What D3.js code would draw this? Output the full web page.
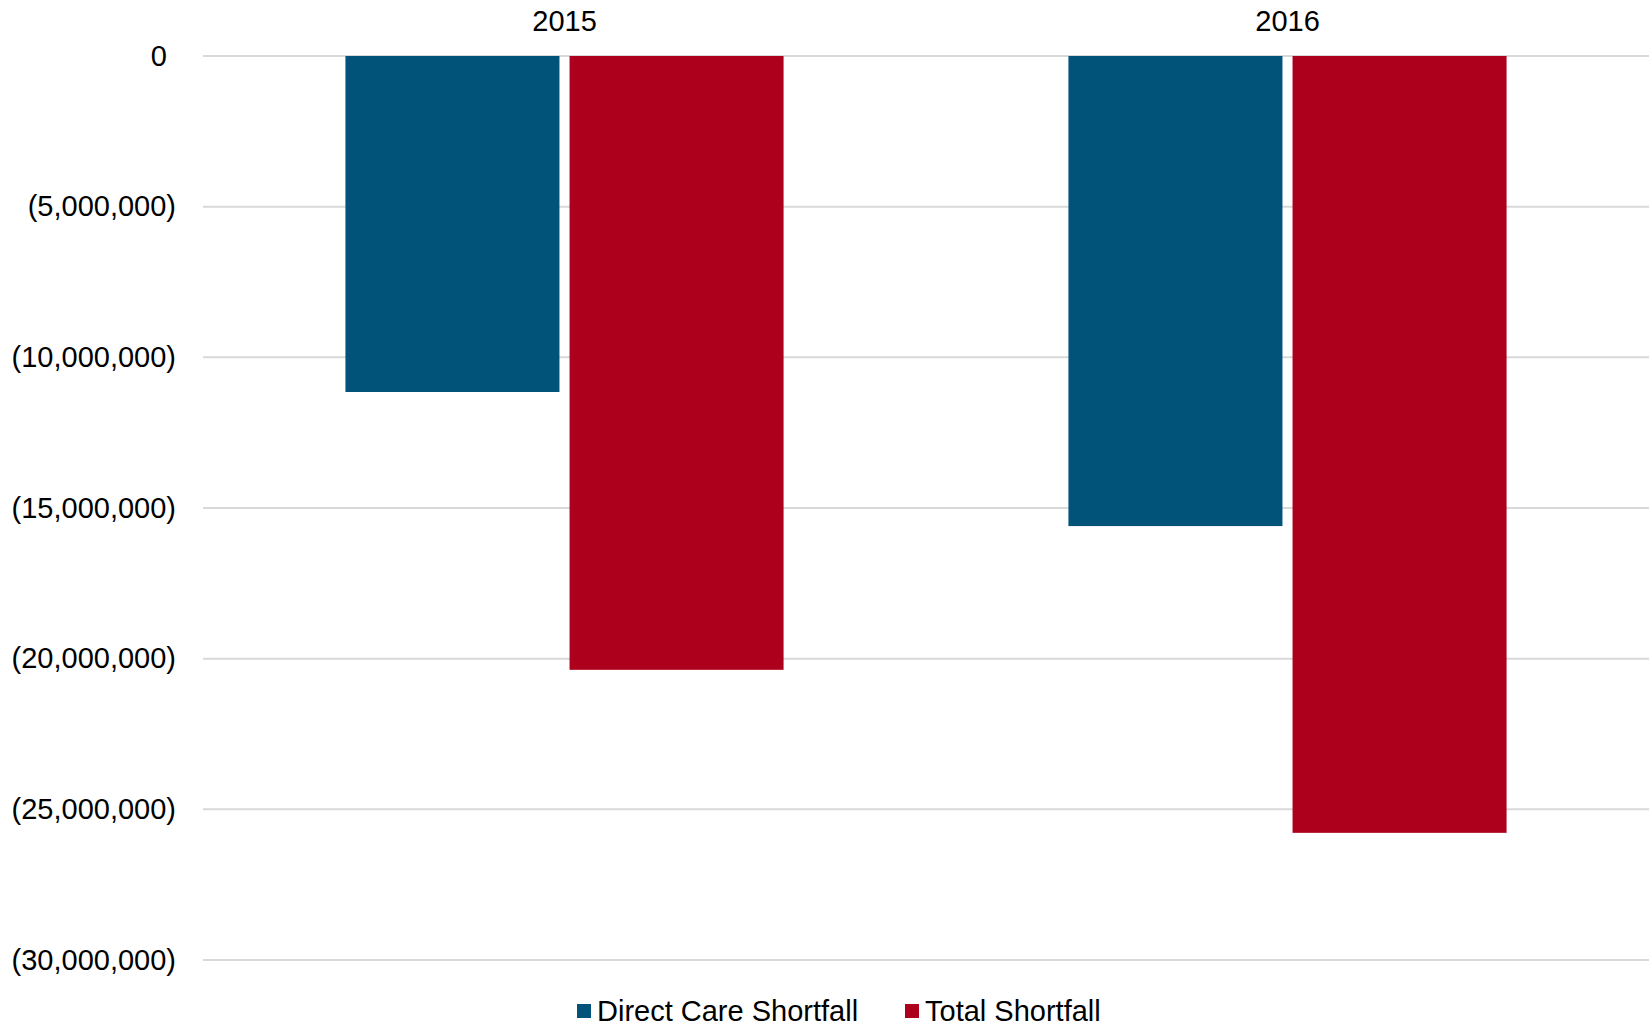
<!DOCTYPE html>
<html>
<head>
<meta charset="utf-8">
<script src="https://cdn.jsdelivr.net/npm/d3@7"></script>
<style>
  html, body { margin: 0; padding: 0; background: #fff; }
  text { font-family: "Liberation Sans", Arial, sans-serif; fill: #000; }
</style>
</head>
<body>
<div id="viz"></div>
<script>
const years = ["2015", "2016"];
const series = ["Direct Care Shortfall", "Total Shortfall"];
const directCare = [-11150000, -15600000];
const totalShortfall = [-20370000, -25780000];
const yTicks = [0, -5000000, -10000000, -15000000, -20000000, -25000000, -30000000];

const colors = ["#01537a", "#ad001c"];

const width = 1652;
const height = 1027;
const margin = { left: 203, right: 3, top: 56, bottom: 67 };
const fontSize = "29px";

const svg = d3.select("#viz").append("svg")
    .attr("width", width)
    .attr("height", height);

const data = years.map((y, i) => ({
    year: y,
    values: [directCare[i], totalShortfall[i]]
}));

const x0 = d3.scaleBand()
    .domain(years)
    .range([margin.left, width - margin.right])
    .paddingInner(0.394)
    .paddingOuter(0.197);

const x1 = d3.scaleBand()
    .domain(series)
    .range([0, x0.bandwidth()])
    .paddingInner(0.045);

const y = d3.scaleLinear()
    .domain([-30000000, 0])
    .range([height - margin.bottom, margin.top]);

const fmt = d3.format(",");

// gridlines
svg.selectAll(".grid")
    .data(yTicks)
    .join("line")
        .attr("class", "grid")
        .attr("x1", margin.left)
        .attr("x2", width - margin.right)
        .attr("y1", d => y(d))
        .attr("y2", d => y(d))
        .attr("stroke", "#d9d9d9")
        .attr("stroke-width", 2);

// y axis labels, negatives in parentheses
const yAxis = d3.axisLeft(y)
    .tickValues(yTicks)
    .tickSize(0)
    .tickPadding(27)
    .tickFormat(d => d < 0 ? `(${fmt(-d)})` : fmt(d));

const gy = svg.append("g")
    .attr("transform", `translate(${margin.left},0)`)
    .call(yAxis);
gy.select(".domain").remove();
gy.selectAll("text")
    .style("font-size", fontSize)
    .style("font-family", '"Liberation Sans", Arial, sans-serif')
    .attr("fill", "#000")
    .attr("dx", d => d >= 0 ? -9 : 0);

// bars
const gYears = svg.selectAll(".year")
    .data(data)
    .join("g")
        .attr("class", "year")
        .attr("transform", d => `translate(${x0(d.year)},0)`);

gYears.selectAll("rect")
    .data(d => d.values.map((v, i) => ({ key: series[i], value: v, color: colors[i] })))
    .join("rect")
        .attr("x", d => x1(d.key))
        .attr("y", y(0))
        .attr("width", x1.bandwidth())
        .attr("height", d => y(d.value) - y(0))
        .attr("fill", d => d.color);

// category labels at top
const xAxis = d3.axisTop(x0).tickSize(0).tickPadding(25);
const gx = svg.append("g")
    .attr("transform", `translate(0,${y(0)})`)
    .call(xAxis);
gx.select(".domain").remove();
gx.selectAll("text")
    .style("font-size", fontSize)
    .style("font-family", '"Liberation Sans", Arial, sans-serif')
    .attr("fill", "#000");

// legend
const legendItems = [
    { label: series[0], color: colors[0], x: 577 },
    { label: series[1], color: colors[1], x: 905 }
];
const legend = svg.selectAll(".legend")
    .data(legendItems)
    .join("g")
        .attr("class", "legend")
        .attr("transform", d => `translate(${d.x},${height - 16})`);

legend.append("rect")
    .attr("x", 0)
    .attr("y", -7)
    .attr("width", 14)
    .attr("height", 14)
    .attr("fill", d => d.color);

legend.append("text")
    .attr("x", 20)
    .attr("y", 0)
    .attr("dy", "0.35em")
    .style("font-size", fontSize)
    .text(d => d.label);
</script>
</body>
</html>
